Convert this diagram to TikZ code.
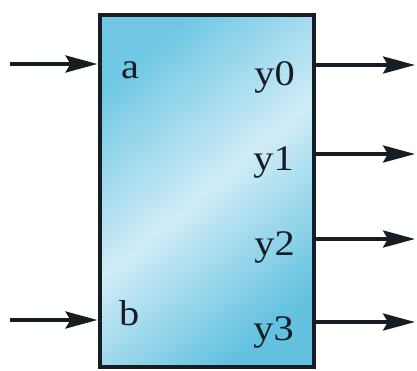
\documentclass[tikz,border=0pt]{standalone}
\usepackage{fontspec}
\newfontfamily\lblfont{Liberation Serif}
\usetikzlibrary{arrows.meta}
\definecolor{cyanA}{RGB}{112,200,228}
\definecolor{cyanM}{RGB}{208,236,247}
\definecolor{cyanB}{RGB}{100,194,224}
\definecolor{edgec}{RGB}{22,30,36}
\tikzset{
  blockbox/.style={draw=edgec, line width=4pt, shading=axis, top color=cyanA, bottom color=cyanB, middle color=cyanM, shading angle=40, minimum width=214pt, minimum height=352pt, inner sep=0pt},
  sig/.style={line width=3.6pt, draw=edgec, -{Stealth[length=32pt,width=17pt,inset=5pt]}},
  lbl/.style={font=\lblfont\fontsize{36}{36}\selectfont, inner sep=0pt, text=edgec, xscale=1.12},
}
\begin{document}
\begin{tikzpicture}[x=1pt,y=-1pt]
\useasboundingbox (0,0) rectangle (417,370);
\node[blockbox] (blk) at (206.5,191) {};
% labels
\node[lbl, anchor=base west] (la) at (121,78) {a};
\node[lbl, anchor=base west] (lb) at (119,325) {b};
\node[lbl, anchor=base east] (l0) at (295,85) {y0};
\node[lbl, anchor=base east] (l1) at (294,170) {y1};
\node[lbl, anchor=base east] (l2) at (295,255) {y2};
\node[lbl, anchor=base east] (l3) at (294,340) {y3};
% coordinates
\coordinate (ina) at (10,64);
\coordinate (inb) at (10,320);
\coordinate (oa) at (415,65);
\coordinate (ob) at (415,154);
\coordinate (oc) at (415,239);
\coordinate (od) at (415,322);
\draw[sig] (ina) -- (ina -| blk.west);
\draw[sig] (inb) -- (inb -| blk.west);
\draw[sig] (oa -| blk.east) -- (oa);
\draw[sig] (ob -| blk.east) -- (ob);
\draw[sig] (oc -| blk.east) -- (oc);
\draw[sig] (od -| blk.east) -- (od);
\end{tikzpicture}
\end{document}
